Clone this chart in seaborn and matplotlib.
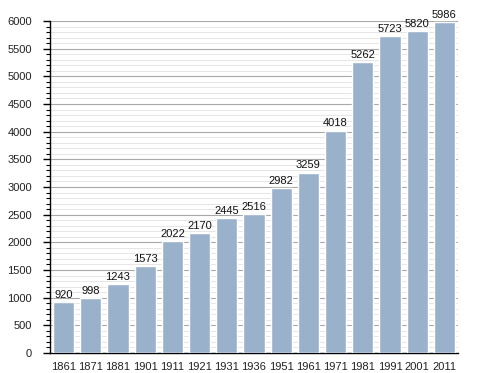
import numpy as np
import pandas as pd
import matplotlib
matplotlib.use('Agg')
import matplotlib.pyplot as plt
import seaborn as sns
from matplotlib.ticker import MultipleLocator

years = ['1861', '1871', '1881', '1901', '1911', '1921', '1931', '1936',
         '1951', '1961', '1971', '1981', '1991', '2001', '2011']
population = [920, 998, 1243, 1573, 2022, 2170, 2445, 2516,
              2982, 3259, 4018, 5262, 5723, 5820, 5986]

sns.set_style('white')
plt.rcParams['font.family'] = ['Liberation Sans', 'DejaVu Sans']

df = pd.DataFrame({'year': years, 'pop': population})

fig = plt.figure(figsize=(4.88, 3.73), dpi=100)
ax = fig.add_axes([0.1025, 0.0536, 0.836, 0.89])

sns.barplot(data=df, x='year', y='pop', color='#9ab1cb', saturation=1,
            width=0.78, ax=ax, zorder=3)

ax.set_ylim(0, 6000)
ax.set_xlim(-0.5, len(years) - 0.5)
ax.yaxis.set_major_locator(MultipleLocator(500))
ax.yaxis.set_minor_locator(MultipleLocator(100))
ax.grid(axis='y', which='major', color='#a8a8a8', linewidth=0.8, zorder=0)
ax.grid(axis='y', which='minor', color='#e2e2e2', linewidth=0.6, zorder=0)
ax.set_axisbelow(True)

for s in ['top', 'right']:
    ax.spines[s].set_visible(False)
ax.spines['left'].set_color('black')
ax.spines['bottom'].set_color('black')
ax.spines['left'].set_linewidth(1)
ax.spines['bottom'].set_linewidth(1)

ax.tick_params(axis='y', which='major', left=True, length=5, width=1,
               color='black', labelsize=8, labelcolor='#222222', pad=8)
ax.tick_params(axis='y', which='minor', left=True, length=3, width=0.8,
               color='black')
ax.tick_params(axis='x', bottom=False, labelsize=8, labelcolor='#222222', pad=3)

for i, v in enumerate(population):
    ax.text(i, v + 40, str(v), ha='center', va='bottom', fontsize=8,
            color='#111111')

ax.set_xlabel('')
ax.set_ylabel('')

fig.savefig('out.png', dpi=100)
